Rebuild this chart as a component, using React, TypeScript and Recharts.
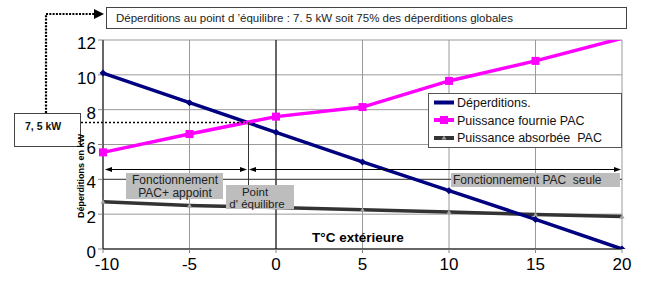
import React from 'react';
import { LineChart, Line, XAxis, YAxis, CartesianGrid, ReferenceLine } from 'recharts';

const temperatures = [-10, -5, 0, 5, 10, 15, 20];
const deperditions = [10.1, 8.4, 6.7, 5.0, 3.35, 1.7, 0];
const puissanceFournie = [5.55, 6.6, 7.6, 8.15, 9.65, 10.8, 12.1];
const puissanceAbsorbee = [2.72, 2.5, 2.38, 2.26, 2.12, 1.98, 1.86];

const xTicks = [-10, -5, 0, 5, 10, 15, 20];
const yTicks = [0, 2, 4, 6, 8, 10, 12];

const seriesNames = ['Déperditions.', 'Puissance fournie PAC', 'Puissance absorbée  PAC'];

const data = temperatures.map((t, i) => ({
  t,
  dep: deperditions[i],
  fournie: puissanceFournie[i],
  absorbee: puissanceAbsorbee[i],
}));

const FONT = 'Arial, "Liberation Sans", sans-serif';
const W = 650;
const H = 286;

// small marker shapes, Excel-like
const DiamondDot = (props: any) => {
  const { cx, cy, index } = props;
  if (cx == null || cy == null) return <g key={index} />;
  return <polygon key={index} points={`${cx},${cy - 3.5} ${cx + 3.5},${cy} ${cx},${cy + 3.5} ${cx - 3.5},${cy}`} fill="#000080" />;
};

const SquareDot = (props: any) => {
  const { cx, cy, index } = props;
  if (cx == null || cy == null || cy < 40) return <g key={index} />;
  return <rect key={index} x={cx - 4} y={cy - 4} width={8} height={8} fill="#ff00ff" />;
};

const TriangleDot = (props: any) => {
  const { cx, cy, index } = props;
  if (cx == null || cy == null) return <g key={index} />;
  return <polygon key={index} points={`${cx},${cy - 2.5} ${cx + 2.5},${cy + 2} ${cx - 2.5},${cy + 2}`} fill="#a0a0a0" />;
};

// x tick: first label nudged right so it clears the "0" of the y axis
const XTick = (props: any) => {
  const { x, y, payload, index } = props;
  return (
    <text x={x + (index === 0 ? 4 : 0)} y={y} dy="0.71em" textAnchor="middle" fontSize={17} fontFamily={FONT} fill="#000">
      {payload.value}
    </text>
  );
};

const Annotations = () => (
  <svg width={W} height={H} style={{ position: 'absolute', left: 0, top: 0, pointerEvents: 'none', fontFamily: FONT }}>
    {/* top caption */}
    <rect x={106.5} y={7.5} width={520} height={21} fill="#fff" stroke="#444" strokeWidth={1} />
    <text x={116} y={22} fontSize={11.5} fill="#222">
      Déperditions au point d ’équilibre : 7. 5 kW soit 75% des déperditions globales
    </text>
    <path d="M46 113 V14 H95" fill="none" stroke="#000" strokeWidth={2.2} strokeDasharray="2 1.3" />
    <polygon points="94,9 104,14 94,19" fill="#000" />

    {/* 7,5 kW box and dotted link */}
    <rect x={14.5} y={113.5} width={66} height={33} fill="#fff" stroke="#444" strokeWidth={1} />
    <text x={25} y={130} fontSize={10.5} fontWeight="bold" fill="#111">7, 5 kW</text>
    <line x1={81} y1={122.5} x2={246} y2={122.5} stroke="#000" strokeWidth={1.5} strokeDasharray="2 2" />
    <line x1={248.5} y1={122} x2={248.5} y2={185} stroke="#333" strokeWidth={1} />

    {/* range arrows */}
    <line x1={106} y1={169.5} x2={244} y2={169.5} stroke="#000" strokeWidth={1} />
    <polygon points="105,169.5 112,167 112,172" fill="#000" />
    <polygon points="247,169.5 240,167 240,172" fill="#000" />
    <line x1={252} y1={169.5} x2={617} y2={169.5} stroke="#000" strokeWidth={1} />
    <polygon points="249,169.5 256,167 256,172" fill="#000" />
    <polygon points="621,169.5 614,167 614,172" fill="#000" />

    {/* grey labels */}
    <rect x={126} y={173} width={97} height={26} fill="#bdbdbd" />
    <text x={175} y={184} fontSize={12} textAnchor="middle" fill="#222">Fonctionnement</text>
    <text x={175} y={197} fontSize={12} textAnchor="middle" fill="#222">PAC+ appoint</text>

    <rect x={226} y={185} width={68} height={24} fill="#bdbdbd" />
    <text x={255} y={196} fontSize={11.5} textAnchor="middle" fill="#222">Point</text>
    <text x={257} y={207.5} fontSize={11.5} textAnchor="middle" fill="#222">d' équilibre</text>

    <rect x={451} y={173} width={169} height={14} fill="#bdbdbd" />
    <text x={453} y={184} fontSize={12} fill="#222" style={{ whiteSpace: 'pre' }}>Fonctionnement PAC  seule</text>

    {/* axis titles */}
    <text x={312} y={242} fontSize={13.5} fontWeight="bold" fill="#000">T°C extérieure</text>
    <text transform="translate(83.5,176) rotate(-90)" textAnchor="middle" fontSize={9} fontWeight="bold" fill="#000">
      Déperditions en kW
    </text>

    {/* legend */}
    <rect x={428.5} y={93.5} width={193} height={54} fill="#fff" stroke="#555" strokeWidth={1} />
    <line x1={434} y1={102.5} x2={454} y2={102.5} stroke="#000080" strokeWidth={4} />
    <line x1={434} y1={120} x2={454} y2={120} stroke="#ff00ff" strokeWidth={4} />
    <rect x={440} y={116} width={8} height={8} fill="#ff00ff" />
    <line x1={434} y1={138} x2={454} y2={138} stroke="#333" strokeWidth={4} />
    <polygon points="444,135.5 446.5,139.5 441.5,139.5" fill="#a0a0a0" />
    {seriesNames.map((name, i) => (
      <text key={name} x={457} y={107 + i * 17.7} fontSize={12.5} fill="#111" style={{ whiteSpace: 'pre' }}>
        {name}
      </text>
    ))}
  </svg>
);

export default function App() {
  return (
    <div style={{ position: 'absolute', left: 0, top: 0, width: W, height: H, background: '#fff', fontFamily: FONT }}>
      <LineChart width={W} height={H} data={data} margin={{ top: 40, right: 28, bottom: 7, left: 73 }}>
        <CartesianGrid stroke="#9a9a9a" strokeWidth={1} />
        <XAxis
          dataKey="t"
          type="number"
          domain={[-10, 20]}
          ticks={xTicks}
          height={30}
          tickSize={4}
          tickLine={{ stroke: '#888' }}
          tickMargin={5}
          axisLine={{ stroke: '#000' }}
          tick={XTick}
        />
        <YAxis
          type="number"
          domain={[0, 12]}
          ticks={yTicks}
          allowDataOverflow
          width={30}
          tickSize={5}
          tickLine={{ stroke: '#888' }}
          tickMargin={2}
          axisLine={{ stroke: '#000' }}
          tick={{ fill: '#000', fontSize: 17, fontFamily: FONT, dy: 3 }}
        />
        <ReferenceLine x={0} stroke="#000" strokeWidth={1} />
        <ReferenceLine y={4} stroke="#444" strokeWidth={1} />
        <Line dataKey="absorbee" stroke="#333" strokeWidth={3.5} dot={TriangleDot} isAnimationActive={false} />
        <Line dataKey="dep" stroke="#000080" strokeWidth={3.5} dot={DiamondDot} isAnimationActive={false} />
        <Line dataKey="fournie" stroke="#ff00ff" strokeWidth={3.5} dot={SquareDot} isAnimationActive={false} />
      </LineChart>
      <Annotations />
    </div>
  );
}
